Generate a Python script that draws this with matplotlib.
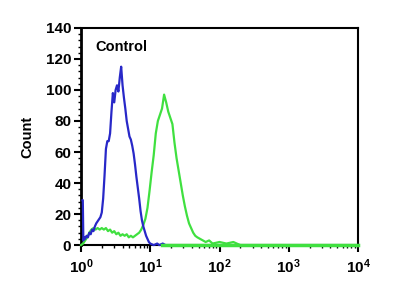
import matplotlib
matplotlib.use('Agg')
import matplotlib.pyplot as plt
import numpy as np
from matplotlib.ticker import FixedLocator, FixedFormatter, MultipleLocator, LogLocator, NullFormatter

plt.rcParams['font.family'] = ['Liberation Sans', 'DejaVu Sans']
plt.rcParams['mathtext.fontset'] = 'custom'
plt.rcParams['mathtext.rm'] = 'Liberation Sans:bold'
plt.rcParams['mathtext.bf'] = 'Liberation Sans:bold'
plt.rcParams['mathtext.default'] = 'bf'

# blue histogram (Control): log10(intensity), count
blue_log = [0.024, 0.026, 0.034, 0.05, 0.06, 0.08, 0.10, 0.12, 0.14, 0.16, 0.18, 0.20,
            0.22, 0.25, 0.28, 0.30, 0.32, 0.34, 0.36, 0.38, 0.40, 0.42, 0.44, 0.46,
            0.48, 0.50, 0.52, 0.54, 0.56, 0.58, 0.60, 0.62, 0.64, 0.66, 0.68, 0.70,
            0.72, 0.74, 0.76, 0.78, 0.80, 0.82, 0.84, 0.86, 0.88, 0.90, 0.92, 0.94,
            0.96, 0.98, 1.00, 1.05, 1.10, 1.13, 1.18, 1.22, 1.50, 2.00, 3.00, 4.00]
blue_cnt = [29, 29, 3, 5, 4, 6, 5, 8, 7, 10, 9, 12,
            14, 16, 18, 21, 30, 45, 62, 67, 67, 72, 86, 98,
            92, 100, 103, 99, 108, 115, 103, 95, 88, 80, 75, 70,
            68, 64, 59, 52, 44, 37, 30, 22, 16, 12, 9, 6,
            4, 2, 1, 0, 1, 0, 1, 0, 0, 0, 0, 0]

# green histogram (sample)
green_log = [0.00, 0.03, 0.06, 0.09, 0.12, 0.15, 0.18, 0.21, 0.24, 0.27, 0.30, 0.33,
             0.36, 0.39, 0.42, 0.45, 0.48, 0.51, 0.54, 0.57, 0.60, 0.63, 0.66, 0.69,
             0.72, 0.75, 0.78, 0.81, 0.84, 0.87, 0.90, 0.93, 0.96, 0.99, 1.02, 1.05,
             1.08, 1.11, 1.14, 1.17, 1.20, 1.23, 1.26, 1.29, 1.32, 1.35, 1.38, 1.41,
             1.44, 1.47, 1.50, 1.53, 1.56, 1.59, 1.62, 1.65, 1.68, 1.72, 1.76, 1.80,
             1.85, 1.90, 2.00, 2.10, 2.20, 2.30, 3.00, 4.00]
green_cnt = [0, 1, 3, 5, 8, 10, 11, 10, 11, 10, 11, 10,
             11, 9, 10, 8, 9, 7, 8, 6, 7, 6, 7, 5,
             6, 5, 6, 7, 8, 10, 13, 17, 24, 35, 47, 58,
             72, 80, 84, 88, 97, 92, 86, 82, 78, 66, 56, 48,
             40, 32, 25, 19, 14, 11, 8, 6, 5, 4, 3, 2,
             3, 1, 2, 1, 2, 0, 0, 0]

xticks = [1, 10, 100, 1000, 10000]
xtick_labels = [r'$10^{0}$', r'$10^{1}$', r'$10^{2}$', r'$10^{3}$', r'$10^{4}$']
yticks = [0, 20, 40, 60, 80, 100, 120, 140]

fig = plt.figure(figsize=(4, 3), dpi=100)
ax = fig.add_axes([0.2025, 0.183, 0.6925, 0.724])

ax.plot(10 ** np.array(green_log), green_cnt, color='#40e040', linewidth=1.6,
        clip_on=False, zorder=3)
ax.plot(10 ** np.array(blue_log), blue_cnt, color='#2828c8', linewidth=1.6,
        clip_on=False, zorder=4)
ax.plot([15, 10000], [0, 0], color='#40e040', linewidth=2.5, clip_on=False, zorder=5)

ax.set_xscale('log')
ax.set_xlim(1, 10000)
ax.set_ylim(0, 140)

ax.xaxis.set_major_locator(FixedLocator(xticks))
ax.xaxis.set_major_formatter(FixedFormatter(xtick_labels))
ax.xaxis.set_minor_locator(LogLocator(base=10, subs=np.arange(2, 10)))
ax.xaxis.set_minor_formatter(NullFormatter())
ax.yaxis.set_major_locator(FixedLocator(yticks))
ax.yaxis.set_minor_locator(MultipleLocator(4))

ax.tick_params(axis='both', which='major', direction='out', length=5, width=1.5,
               labelsize=11)
ax.tick_params(axis='both', which='minor', direction='out', length=2.5, width=1)
ax.tick_params(axis='x', pad=4)
ax.tick_params(axis='y', pad=2)
for lab in ax.get_yticklabels():
    lab.set_fontweight('bold')

for sp in ax.spines.values():
    sp.set_linewidth(1.5)
    sp.set_color('black')
ax.spines['left'].set_linewidth(2)
ax.spines['left'].set_zorder(1)

ax.set_ylabel('Count', fontsize=10.5, fontweight='bold', labelpad=8)
ax.text(1.6, 128, 'Control', fontsize=10.5, fontweight='bold', va='center')

plt.savefig('out.png', dpi=100)
